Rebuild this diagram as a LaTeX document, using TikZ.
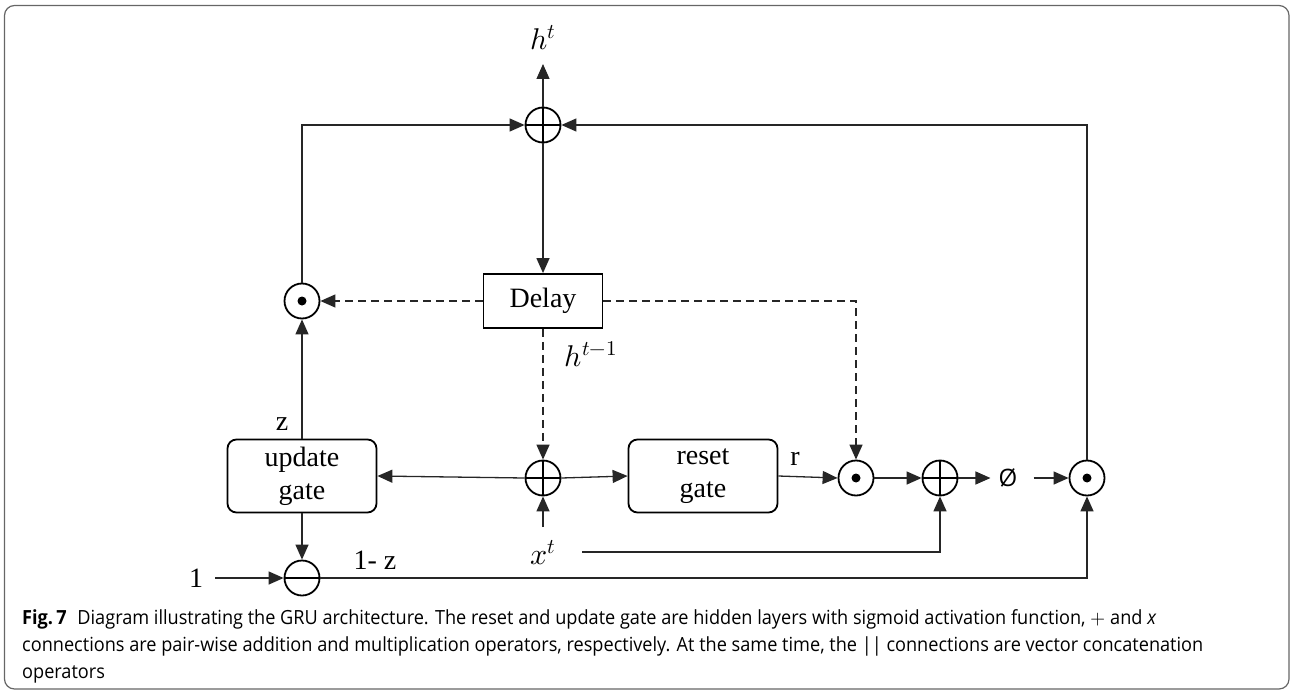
\documentclass[tikz,border=0pt]{standalone}
\usepackage{fontspec}
\usepackage{unicode-math}
\setmainfont{Liberation Serif}
\newfontfamily\capfont[FakeStretch=0.93]{Open Sans}
\newfontfamily\phifont{Open Sans}
\usetikzlibrary{arrows.meta}

\tikzset{
  wire/.style={line width=1.3pt, draw=black!85},
  arr/.style={wire, -{Triangle[length=15pt,width=13pt]}},
  dasharr/.style={arr, dash pattern=on 8pt off 5pt},
  op/.style={circle, draw=black, line width=1.8pt, minimum size=35pt, inner sep=0pt},
  oplus/.style={op, path picture={
      \draw[line width=1.6pt] (path picture bounding box.north) -- (path picture bounding box.south)
                              (path picture bounding box.west) -- (path picture bounding box.east);}},
  odot/.style={op, path picture={\fill (path picture bounding box.center) circle (4.5pt);}},
  ominus/.style={op, path picture={
      \draw[line width=1.6pt] (path picture bounding box.west) -- (path picture bounding box.east);}},
  gate/.style={draw=black, line width=1.8pt, rounded corners=9pt, minimum width=149pt,
      minimum height=73pt, align=center, inner sep=0pt,
      font=\fontsize{28}{33}\selectfont},
  delaybox/.style={draw=black, line width=1.8pt, minimum width=119pt, minimum height=54pt,
      inner sep=0pt, font=\fontsize{28}{33}\selectfont},
  lbl/.style={inner sep=0pt, font=\fontsize{28}{30}\selectfont},
  mlbl/.style={inner sep=0pt, font=\fontsize{30}{32}\selectfont},
  capline/.style={anchor=base west, inner sep=0pt, font=\capfont\fontsize{19.5}{26.5}\selectfont}
}

\begin{document}
\begin{tikzpicture}[x=1pt,y=-1pt]
  \useasboundingbox (0,0) rectangle (1290,690);
  % outer frame
  \draw[draw=black!60, line width=1.2pt, rounded corners=10pt] (4.5,5.5) rectangle (1289,689);

  % operators
  \node[oplus]  (plusTop) at (543,125) {};
  \node[odot]   (odotL)   at (302,301) {};
  \node[oplus]  (plusMid) at (543,478) {};
  \node[odot]   (odotM)   at (856,478) {};
  \node[oplus]  (plusR)   at (940,478) {};
  \node[odot]   (odotR)   at (1087,478) {};
  \node[ominus] (minus)   at (302,578) {};

  % blocks
  \node[delaybox] (delay) at (543,301) {Delay};
  \node[gate] (upd) at (302,476) {update\\gate};
  \node[gate] (rst) at (703,476) {reset\\gate};

  % labels
  \node[mlbl] (ht)   at (543,38)  {$h^{t}$};
  \coordinate (htin) at (543,64);
  \node[mlbl] (hprev) at (591,354) {$h^{t-1}$};
  \node[mlbl] (xt)   at (543,553) {$x^{t}$};
  \coordinate (xtup) at (543,527);
  \coordinate (xtline) at (582,552);
  \node[lbl] (zl)   at (282,424) {z};
  \node[lbl] (rl)   at (795,459) {r};
  \node[lbl] (omz)  at (375,560) {1- z};
  \node[lbl] (one)  at (196,578) {1};
  \node[inner sep=0pt, font=\phifont\fontsize{24}{26}\selectfont] (phi) at (1008,478) {Ø};

  % output path
  \draw[arr] (plusTop.north) -- (htin);
  \draw[arr] (odotL.north) |- (plusTop.west);
  \draw[arr] (odotR.north) |- (plusTop.east);
  \draw[arr] (plusTop.south) -- (delay.north);

  % previous state
  \draw[dasharr] (delay.west) -- (odotL.east);
  \draw[dasharr] (delay.east) -| (odotM.north);
  \draw[dasharr] (delay.south) -- (plusMid.north);

  % gates
  \draw[arr] (plusMid.west) -- (upd.east);
  \draw[arr] (plusMid.east) -- (rst.west);
  \draw[arr] (xtup) -- (plusMid.south);
  \draw[arr] (upd.north) -- (odotL.south);
  \draw[arr] (upd.south) -- (minus.north);
  \draw[arr, shorten <=12pt] (one.east) -- (minus.west);
  \draw[arr] (minus.east) -| (odotR.south);

  % candidate state
  \draw[arr] (rst.east) -- (odotM.west);
  \draw[arr] (odotM.east) -- (plusR.west);
  \draw[arr] (xtline) -| (plusR.south);
  \draw[arr, shorten >=8pt] (plusR.east) -- (phi.west);
  \draw[arr, shorten <=16pt] (phi.east) -- (odotR.west);

  % caption
  \node[capline] (cap1) at (22,624) {\textbf{Fig.\,7}\hspace{0.55em}Diagram illustrating the GRU architecture. The reset and update gate are hidden layers with sigmoid activation function, $+$ and \textit{x}};
  \node[capline] (cap2) at (22,651) {connections are pair-wise addition and multiplication operators, respectively. At the same time, the || connections are vector concatenation};
  \node[capline] (cap3) at (22,678) {operators};
\end{tikzpicture}
\end{document}
